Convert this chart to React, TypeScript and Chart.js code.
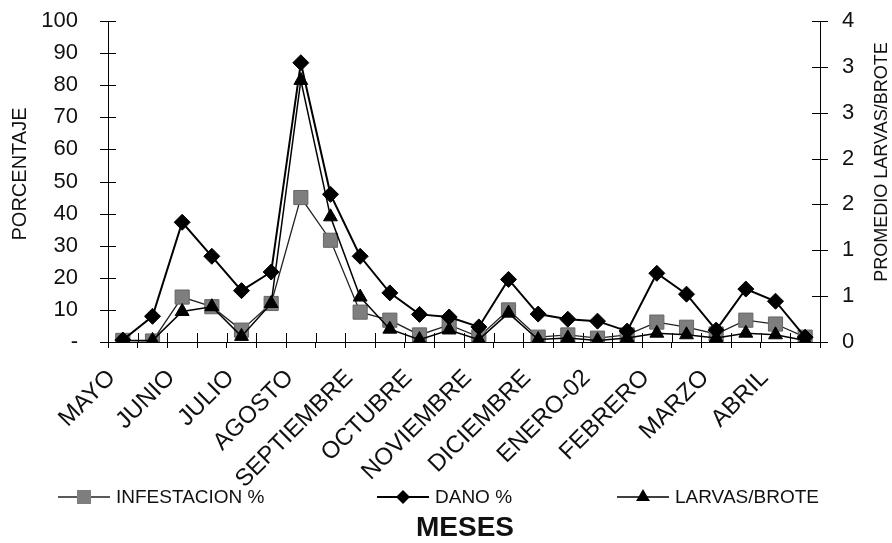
import React, { useEffect, useRef } from 'react';
import { Chart, registerables } from 'chart.js';
Chart.register(...registerables);

const months = ['MAYO', 'JUNIO', 'JULIO', 'AGOSTO', 'SEPTIEMBRE', 'OCTUBRE', 'NOVIEMBRE', 'DICIEMBRE', 'ENERO-02', 'FEBRERO', 'MARZO', 'ABRIL'];
// two readings per month
const infestacion = [0.5, 0.3, 14, 11, 3.7, 12, 45, 31.7, 9.3, 6.8, 2.2, 5.3, 1.6, 10, 1.5, 2.2, 1.2, 2.2, 6.2, 4.6, 2.5, 6.8, 5.6, 1.5];
const dano = [0.6, 8, 37.3, 26.7, 16, 21.8, 87, 46, 26.7, 15.3, 8.6, 7.8, 4.7, 19.5, 8.7, 7.1, 6.5, 3.4, 21.4, 14.9, 3.7, 16.5, 12.7, 1.5];
const larvas = [0.02, 0.02, 0.38, 0.44, 0.07, 0.48, 3.26, 1.56, 0.56, 0.16, 0.03, 0.15, 0.03, 0.36, 0.03, 0.05, 0.02, 0.05, 0.11, 0.09, 0.05, 0.11, 0.09, 0.02];
const leftMax = 100;
const leftStep = 10;
const rightMax = 4;
const rightDivisions = 7;

const seriesNames = ['INFESTACION %', 'DANO %', 'LARVAS/BROTE'];
const leftTitle = 'PORCENTAJE';
const rightTitle = 'PROMEDIO LARVAS/BROTE';
const xTitle = 'MESES';

const FONT = '"Liberation Sans", Arial, Helvetica, sans-serif';

const categories = months.flatMap((m) => [m, '']);

function drawMarker(ctx: CanvasRenderingContext2D, kind: string, x: number, y: number) {
  ctx.save();
  ctx.beginPath();
  if (kind === 'rect') {
    const s = 7;
    ctx.rect(x - s, y - s, 2 * s, 2 * s);
    ctx.fillStyle = '#7e7e7e';
    ctx.fill();
  } else if (kind === 'rectRot') {
    const r = 7;
    ctx.moveTo(x, y - r);
    ctx.lineTo(x + r, y);
    ctx.lineTo(x, y + r);
    ctx.lineTo(x - r, y);
    ctx.closePath();
    ctx.fillStyle = '#000';
    ctx.fill();
  } else {
    const r = 8;
    ctx.moveTo(x, y - r);
    ctx.lineTo(x + r * 0.866, y + r * 0.5);
    ctx.lineTo(x - r * 0.866, y + r * 0.5);
    ctx.closePath();
    ctx.fillStyle = '#000';
    ctx.fill();
  }
  ctx.restore();
}

const decorPlugin = {
  id: 'decor',
  beforeDatasetsDraw(chart: any) {
    const { ctx, chartArea: ca, scales } = chart;
    ctx.save();
    ctx.strokeStyle = '#000';
    ctx.lineWidth = 1;
    ctx.beginPath();
    scales.y.ticks.forEach((t: any) => {
      const py = Math.round(scales.y.getPixelForValue(t.value)) + 0.5;
      ctx.moveTo(ca.left - 8, py);
      ctx.lineTo(ca.left + 8, py);
    });
    scales.y1.ticks.forEach((t: any) => {
      const py = Math.round(scales.y1.getPixelForValue(t.value)) + 0.5;
      ctx.moveTo(ca.right - 8, py);
      ctx.lineTo(ca.right + 8, py);
    });
    const n = chart.data.labels.length;
    for (let i = 0; i <= n; i++) {
      const px = Math.round(ca.left + (i * ca.width) / n) + 0.5;
      ctx.moveTo(px, ca.bottom);
      ctx.lineTo(px, ca.bottom - 9);
    }
    ctx.stroke();
    ctx.restore();
  },
  afterDraw(chart: any) {
    const { ctx } = chart;
    ctx.save();
    ctx.fillStyle = '#111';
    ctx.textAlign = 'center';
    ctx.textBaseline = 'middle';
    // axis titles
    ctx.font = `20px ${FONT}`;
    ctx.save();
    ctx.translate(20, 174);
    ctx.rotate(-Math.PI / 2);
    ctx.fillText(leftTitle, 0, 0);
    ctx.restore();
    ctx.font = `18px ${FONT}`;
    ctx.save();
    ctx.translate(882, 162);
    ctx.rotate(-Math.PI / 2);
    ctx.fillText(rightTitle, 0, 0);
    ctx.restore();
    // legend
    const items = [
      { x: 58, kind: 'rect', color: '#222', w: 1.3 },
      { x: 377, kind: 'rectRot', color: '#000', w: 2 },
      { x: 617, kind: 'triangle', color: '#000', w: 1.5 },
    ];
    const ly = 497;
    ctx.textAlign = 'left';
    ctx.font = `19px ${FONT}`;
    items.forEach((it, i) => {
      ctx.beginPath();
      ctx.strokeStyle = it.color;
      ctx.lineWidth = it.w;
      ctx.moveTo(it.x, ly);
      ctx.lineTo(it.x + 52, ly);
      ctx.stroke();
      drawMarker(ctx, it.kind, it.x + 26, ly);
      ctx.fillStyle = '#111';
      ctx.fillText(seriesNames[i], it.x + 58, ly + 1);
    });
    // x title
    ctx.textAlign = 'center';
    ctx.font = `bold 28px ${FONT}`;
    ctx.fillText(xTitle, 465, 528);
    ctx.restore();
  },
};

export default function App() {
  const ref = useRef<HTMLCanvasElement>(null);
  useEffect(() => {
    document.body.style.margin = '0';
    const canvas = ref.current!;
    const chart = new Chart(canvas, {
      type: 'line',
      data: {
        labels: categories,
        datasets: [
          {
            label: seriesNames[0],
            data: infestacion,
            yAxisID: 'y',
            borderColor: '#222',
            borderWidth: 1.3,
            pointStyle: 'rect',
            pointRadius: 10,
            pointBackgroundColor: '#7e7e7e',
            pointBorderColor: '#666',
            pointBorderWidth: 1,
            tension: 0,
            order: 3,
          },
          {
            label: seriesNames[1],
            data: dano,
            yAxisID: 'y',
            borderColor: '#000',
            borderWidth: 2,
            pointStyle: 'rectRot',
            pointRadius: 8,
            pointBackgroundColor: '#000',
            pointBorderColor: '#000',
            pointBorderWidth: 1,
            tension: 0,
            order: 2,
          },
          {
            label: seriesNames[2],
            data: larvas,
            yAxisID: 'y1',
            borderColor: '#000',
            borderWidth: 1.5,
            pointStyle: 'triangle',
            pointRadius: 8,
            pointBackgroundColor: '#000',
            pointBorderColor: '#000',
            pointBorderWidth: 1,
            tension: 0,
            order: 1,
          },
        ],
      },
      options: {
        responsive: false,
        animation: false,
        layout: { padding: { top: 21, left: 0, right: 0, bottom: 0 } },
        plugins: {
          legend: { display: false },
          tooltip: { enabled: false },
          title: { display: false },
        },
        scales: {
          x: {
            type: 'category',
            offset: true,
            grid: { display: true, offset: true, drawOnChartArea: false, drawTicks: true, tickLength: 6, color: '#000', tickColor: '#000' },
            border: { display: true, color: '#000', width: 1 },
            ticks: {
              autoSkip: false,
              maxRotation: 45,
              minRotation: 45,
              padding: 16,
              labelOffset: -11,
              color: '#111',
              font: { family: FONT, size: 24 },
              callback: (_v: any, i: number) => categories[i],
            },
            afterFit: (s: any) => {
              s.height = 201;
            },
          },
          y: {
            position: 'left',
            min: 0,
            max: leftMax,
            grid: { drawOnChartArea: false, drawTicks: true, tickLength: 30, color: '#000', tickColor: 'rgba(0,0,0,0)' },
            border: { display: true, color: '#000', width: 1 },
            ticks: {
              stepSize: leftStep,
              padding: 0,
              color: '#111',
              font: { family: FONT, size: 22 },
              callback: (v: any) => (v === 0 ? '-' : String(v)),
            },
            afterFit: (s: any) => {
              s.width = 108;
            },
          },
          y1: {
            position: 'right',
            min: 0,
            max: rightMax,
            grid: { drawOnChartArea: false, drawTicks: true, tickLength: 22, color: '#000', tickColor: 'rgba(0,0,0,0)' },
            border: { display: true, color: '#000', width: 1 },
            afterBuildTicks: (s: any) => {
              s.ticks = Array.from({ length: rightDivisions + 1 }, (_, i) => ({ value: (i * rightMax) / rightDivisions }));
            },
            ticks: {
              padding: 0,
              color: '#111',
              font: { family: FONT, size: 22 },
              callback: (v: any) => String(Math.round(v)),
            },
            afterFit: (s: any) => {
              s.width = 72;
            },
          },
        },
      },
      plugins: [decorPlugin],
    });
    return () => chart.destroy();
  }, []);
  return <canvas ref={ref} width={892} height={543} style={{ display: 'block' }} />;
}
